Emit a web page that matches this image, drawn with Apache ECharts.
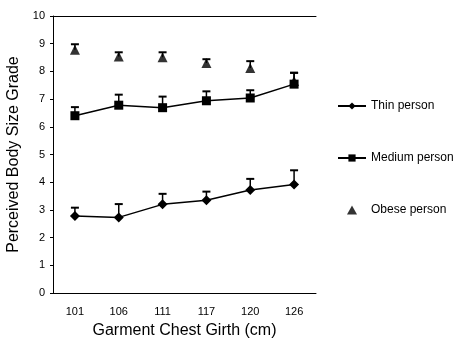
<!DOCTYPE html>
<html>
<head>
<meta charset="utf-8">
<script src="https://cdn.jsdelivr.net/npm/echarts@6/dist/echarts.min.js"></script>
<style>
  html, body { margin: 0; padding: 0; background: #fff; }
  #chart { width: 454px; height: 338px; }
</style>
</head>
<body>
<div id="chart"></div>
<script>
const girths = ['101', '106', '111', '117', '120', '126']

const thinValues = [2.78, 2.73, 3.2, 3.35, 3.72, 3.92]
const thinErrors = [0.3, 0.48, 0.38, 0.31, 0.4, 0.51]

const mediumValues = [6.4, 6.78, 6.69, 6.94, 7.04, 7.54]
const mediumErrors = [0.31, 0.38, 0.4, 0.34, 0.28, 0.41]

const obeseValues = [8.78, 8.54, 8.51, 8.3, 8.12, 7.65]
const obeseErrors = [0.2, 0.15, 0.18, 0.14, 0.25, 0.3]

const ink = '#000'
const font = 'Liberation Sans, Arial, sans-serif'

const chart = echarts.init(document.getElementById('chart'))

// upward-only error bars with a small cap
function errorBars(values, errors) {
  return {
    type: 'custom',
    silent: true,
    z: 1,
    data: values.map((v, i) => [i, v, v + errors[i]]),
    renderItem: function(params, api) {
      const base = api.coord([api.value(0), api.value(1)])
      const top = api.coord([api.value(0), api.value(2)])
      const cap = 4
      return {
        type: 'group',
        children: [
          { type: 'line', shape: { x1: base[0], y1: base[1], x2: top[0], y2: top[1] }, style: { stroke: ink, lineWidth: 1.5 } },
          { type: 'line', shape: { x1: top[0] - cap, y1: top[1], x2: top[0] + cap, y2: top[1] }, style: { stroke: ink, lineWidth: 2 } }
        ]
      }
    }
  }
}

const option = {
  backgroundColor: '#fff',
  animation: false,
  textStyle: { fontFamily: font, color: ink },
  grid: { left: 53, right: 138, top: 16, bottom: 45, outerBoundsMode: 'none' },
  legend: {
    orient: 'vertical',
    left: 332,
    top: 95,
    itemGap: 40,
    itemWidth: 28,
    itemHeight: 9,
    symbolKeepAspect: true,
    textStyle: { fontSize: 12, color: ink, fontFamily: font },
    data: ['Thin person', 'Medium person', { name: 'Obese person', icon: 'path://M5,0 L10,9 L0,9 Z' }]
  },
  xAxis: [
    {
      type: 'category',
      data: girths,
      name: 'Garment Chest Girth (cm)',
      nameLocation: 'middle',
      nameGap: 30,
      nameTextStyle: { fontSize: 16, color: ink },
      axisLine: { lineStyle: { color: ink, width: 1 } },
      axisTick: { show: false },
      axisLabel: { fontSize: 11, color: ink, margin: 13 }
    },
    {
      type: 'category',
      data: girths,
      position: 'top',
      axisLine: { lineStyle: { color: ink, width: 1 } },
      axisTick: { show: false },
      axisLabel: { show: false }
    }
  ],
  yAxis: {
    type: 'value',
    min: 0,
    max: 10,
    interval: 1,
    name: 'Perceived Body Size Grade',
    nameLocation: 'middle',
    nameGap: 21,
    nameTextStyle: { fontSize: 16, color: ink },
    axisLine: { show: true, lineStyle: { color: ink, width: 1 } },
    axisTick: { show: true, length: 3, lineStyle: { color: ink } },
    axisLabel: { fontSize: 11, color: ink, margin: 8 },
    splitLine: { show: false }
  },
  series: [
    errorBars(thinValues, thinErrors),
    errorBars(mediumValues, mediumErrors),
    errorBars(obeseValues, obeseErrors),
    {
      name: 'Thin person',
      type: 'line',
      data: thinValues,
      symbol: 'diamond',
      symbolSize: 10,
      z: 3,
      lineStyle: { color: ink, width: 1.5 },
      itemStyle: { color: ink }
    },
    {
      name: 'Medium person',
      type: 'line',
      data: mediumValues,
      symbol: 'rect',
      symbolSize: 9,
      z: 3,
      lineStyle: { color: ink, width: 1.5 },
      itemStyle: { color: ink }
    },
    {
      name: 'Obese person',
      type: 'scatter',
      data: obeseValues,
      symbol: 'triangle',
      symbolSize: 10,
      z: 3,
      itemStyle: { color: ink }
    }
  ]
}

chart.setOption(option)
</script>
</body>
</html>
